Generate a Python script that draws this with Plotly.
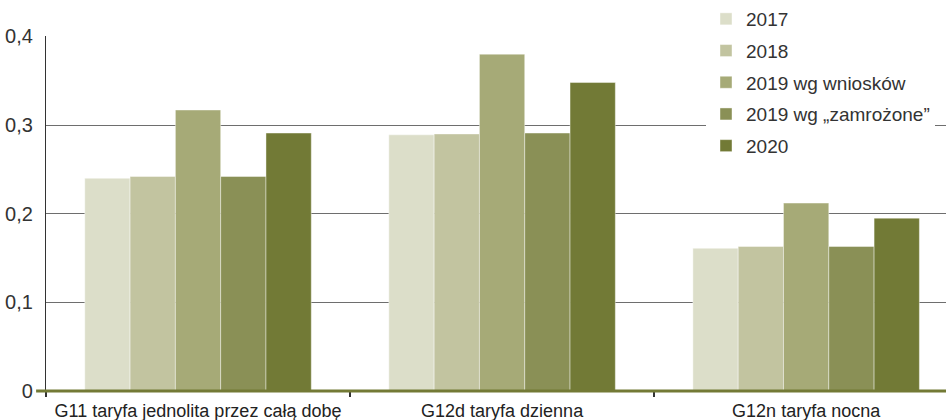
import plotly.graph_objects as go

categories = ["G11 taryfa jednolita przez całą dobę", "G12d taryfa dzienna", "G12n taryfa nocna"]
series_names = ["2017", "2018", "2019 wg wniosków", "2019 wg „zamrożone”", "2020"]
v2017 = [0.240, 0.289, 0.161]
v2018 = [0.242, 0.290, 0.163]
v2019_wnioski = [0.317, 0.380, 0.212]
v2019_zamrozone = [0.242, 0.291, 0.163]
v2020 = [0.291, 0.348, 0.195]
series_values = [v2017, v2018, v2019_wnioski, v2019_zamrozone, v2020]
colors = ["#dcdec9", "#c2c4a0", "#a6aa77", "#8a9056", "#727a36"]
y_ticks = [0, 0.1, 0.2, 0.3, 0.4]
y_tick_labels = ["0", "0,1", "0,2", "0,3", "0,4"]

fig = go.Figure()
for i, (name, vals) in enumerate(zip(series_names, series_values)):
    fig.add_trace(go.Bar(
        x=categories, y=vals, name=name,
        marker=dict(color=colors[i], line=dict(width=0.6, color="rgba(255,255,255,0.7)")),
        legendgroup=f"g{i}",
    ))

plot_l, plot_t, plot_b = 46, 36, 29
plot_w = 946 - plot_l
plot_h = 420 - plot_t - plot_b

fig.update_layout(
    width=946, height=420,
    margin=dict(l=plot_l, r=0, t=plot_t, b=plot_b, autoexpand=False),
    paper_bgcolor="white", plot_bgcolor="white",
    barmode="group", bargap=0.255, bargroupgap=0,
    font=dict(family="Liberation Sans, Arial, sans-serif", color="#222"),
    showlegend=True,
    legend=dict(
        x=(706 - plot_l) / plot_w, y=1 + plot_t / plot_h, xanchor="left", yanchor="top",
        font=dict(size=19, color="#333"),
        bgcolor="white", borderwidth=0,
        tracegroupgap=4,
        itemclick=False,
    ),
    xaxis=dict(
        type="category", automargin=False,
        range=[-0.5, 2.46], showgrid=False, zeroline=False,
        ticks="outside", tickson="boundaries", ticklen=5, tickcolor="#333", tickwidth=1.5,
        tickfont=dict(size=18, color="#222"), showline=False, ticklabelstandoff=7,
    ),
    yaxis=dict(
        range=[0, 0.4005], tickmode="array", tickvals=y_ticks, ticktext=y_tick_labels,
        showgrid=True, gridcolor="#6e6e6e", gridwidth=1.2, automargin=False,
        zeroline=False, showline=True, linecolor="#333", linewidth=1.2,
        tickfont=dict(size=20, color="#333"), ticks="", ticklabelstandoff=8,
    ),
    shapes=[dict(type="line", xref="paper", yref="paper", x0=-0.011, x1=1, y0=0, y1=0,
                 line=dict(color="#737a35", width=3), layer="above")],
)

fig.write_html("out.html")
